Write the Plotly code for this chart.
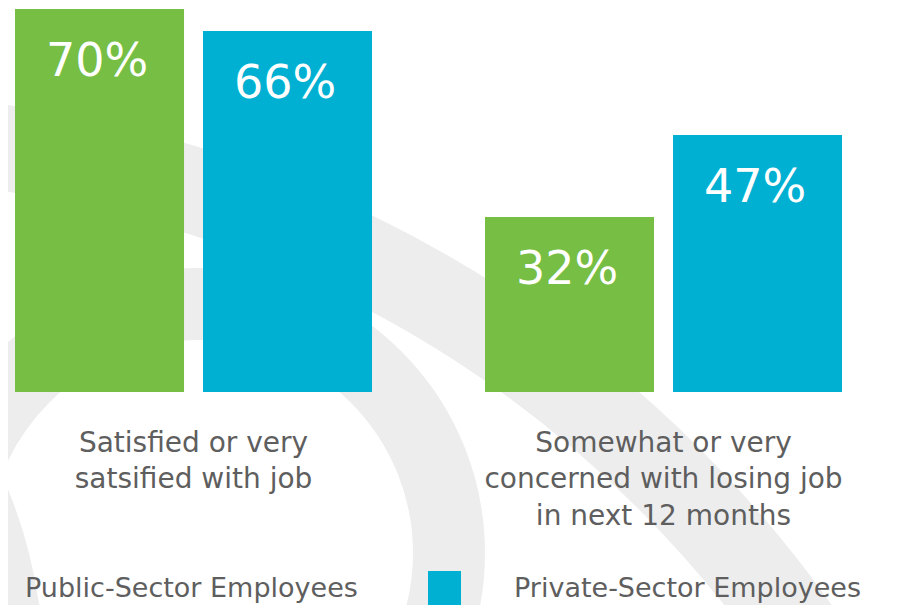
import plotly.graph_objects as go

# ---------------- data ----------------
categories = [
    "Satisfied or very<br>satsified with job",
    "Somewhat or very<br>concerned with losing job<br>in next 12 months",
]
series_names = ["Public-Sector Employees", "Private-Sector Employees"]
public_sector = [70, 32]
private_sector = [66, 47]

# ---------------- style / layout ----------------
GREEN = "#76BE44"
BLUE = "#00B0D3"
ARC = "#EDEDED"
TEXT = "#5E5E5E"
OFF = 8                     # page body margin offset
W, H = 909 - OFF, 605 - OFF
M_B = 213
PH = H - M_B                # plot-area height in px
BASE = PH + OFF             # baseline in screen px
BARGAP = 0.2
BARGROUPGAP = 0.101


def px_x(sx):
    return (sx - OFF) / W


def px_y(sy):
    return (BASE - sy) / PH


fig = go.Figure()
for name, vals, col in [(series_names[0], public_sector, GREEN),
                        (series_names[1], private_sector, BLUE)]:
    fig.add_trace(go.Bar(x=categories, y=vals, name=name, marker_color=col,
                         marker_line_width=0, showlegend=False,
                         hoverinfo="skip"))

# value labels inside the bars
off = (1 - BARGAP) / 4
annotations = []
for k, vals in enumerate([public_sector, private_sector]):
    sign = -1 if k == 0 else 1
    for i, v in enumerate(vals):
        annotations.append(dict(
            x=i + sign * off, y=v, xref="x", yref="y", text=f"{v}%",
            showarrow=False, yanchor="middle", xanchor="center",
            yshift=-51, xshift=-3,
            font=dict(family="DejaVu Sans", size=46, color="white",
                      weight="normal")))

# manual legend (large squares)
legend_items = [(series_names[0], GREEN, -60, 191),
                (series_names[1], BLUE, 428, 687)]
shapes = []
for name, col, sq_left, txt_center in legend_items:
    shapes.append(dict(type="rect", xref="paper", yref="paper",
                       x0=px_x(sq_left), x1=px_x(sq_left + 33),
                       y0=px_y(612), y1=px_y(571),
                       fillcolor=col, line_width=0, layer="above"))
    annotations.append(dict(x=px_x(txt_center), y=px_y(587), xref="paper",
                            yref="paper", text=name, showarrow=False,
                            xanchor="center", yanchor="middle",
                            font=dict(family="DejaVu Sans", size=27,
                                      color=TEXT)))

# decorative background arcs
for cx, cy, r, w in [(-156, 1304, 1167, 86), (200, 553, 249, 72)]:
    shapes.append(dict(type="circle", xref="paper", yref="paper",
                       x0=px_x(cx - r), x1=px_x(cx + r),
                       y0=px_y(cy + r), y1=px_y(cy - r),
                       line=dict(color=ARC, width=w),
                       fillcolor="rgba(0,0,0,0)", layer="below"))
shapes.append(dict(type="path", xref="paper", yref="paper",
                   path=(f"M{px_x(-5)},{px_y(462)} "
                         f"Q{px_x(28)},{px_y(525)} {px_x(40)},{px_y(610)} "
                         f"L{px_x(-5)},{px_y(610)} Z"),
                   fillcolor=ARC, line_width=0, layer="below"))

fig.update_layout(
    width=W, height=H,
    margin=dict(l=0, r=0, t=0, b=M_B, pad=0),
    paper_bgcolor="white", plot_bgcolor="rgba(0,0,0,0)",
    barmode="group", bargap=BARGAP, bargroupgap=BARGROUPGAP,
    annotations=annotations, shapes=shapes,
    showlegend=False,
    xaxis=dict(range=[-0.3947, 1.5223], showgrid=False, zeroline=False,
               showline=False, ticks="", ticklabelstandoff=31,
               tickfont=dict(family="DejaVu Sans", size=28, color=TEXT)),
    yaxis=dict(range=[0, PH / 5.47], visible=False, showgrid=False,
               zeroline=False),
)

fig.write_html("out.html")
